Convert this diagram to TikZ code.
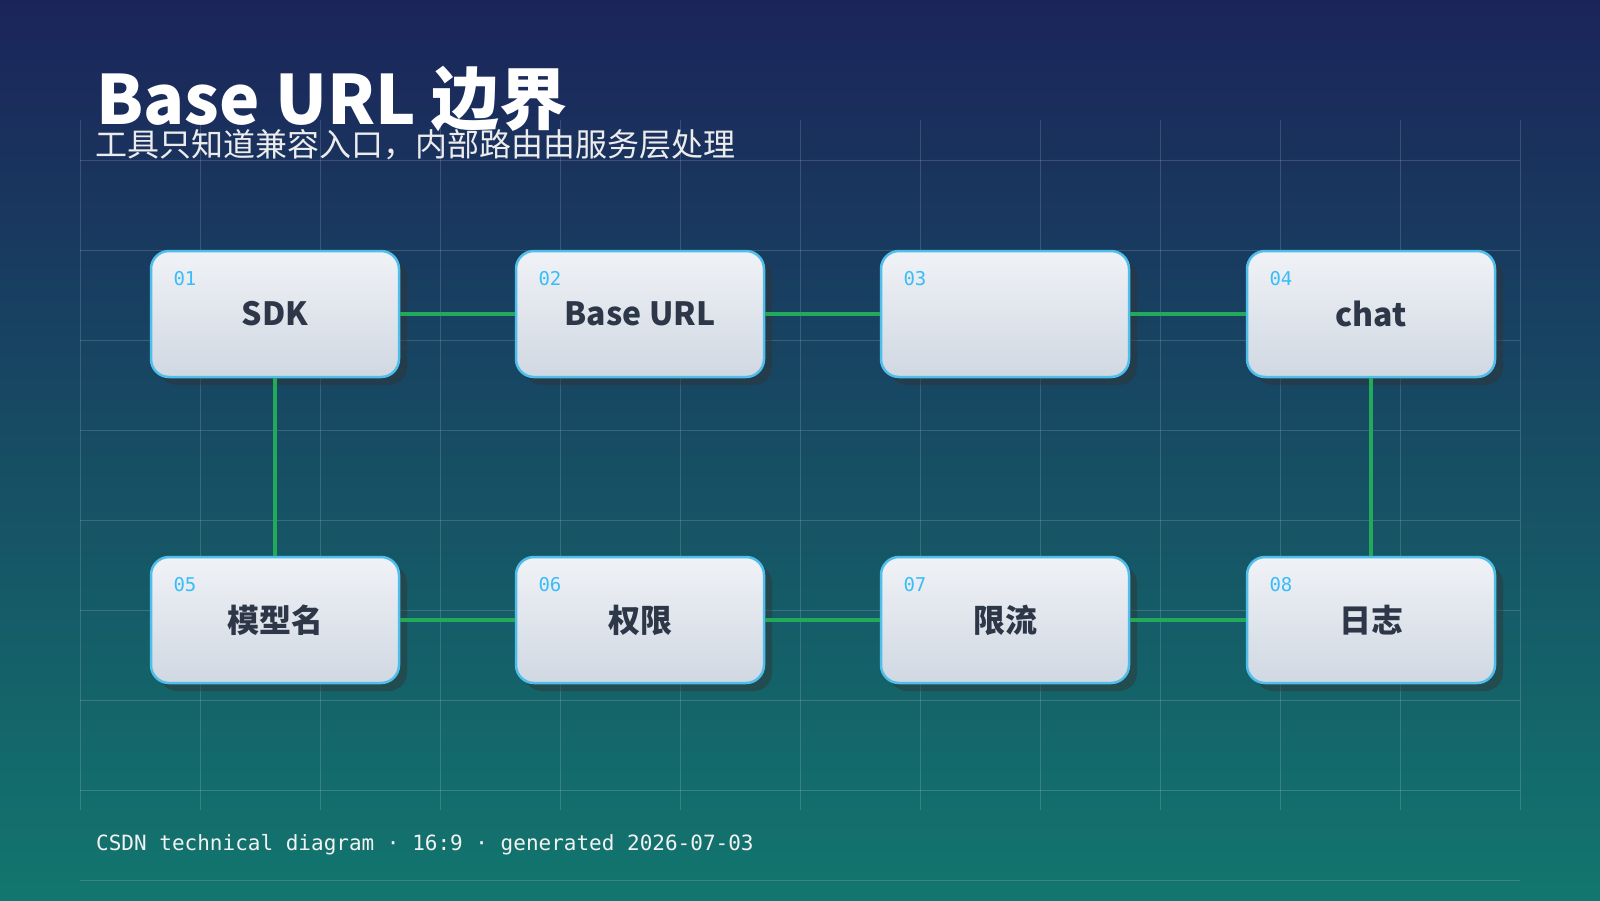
\documentclass[tikz,border=0pt]{standalone}
\usepackage{fontspec}
\setmainfont{Noto Sans CJK SC}
\newfontfamily\cjk{Noto Sans CJK SC}
\newfontfamily\monof{DejaVu Sans Mono}
\usetikzlibrary{shadows}
\definecolor{bgL}{RGB}{27,36,90}
\definecolor{bgR}{RGB}{18,118,110}
\definecolor{edgeC}{RGB}{34,170,90}
\definecolor{numC}{RGB}{56,189,248}
\definecolor{bordC}{RGB}{80,190,235}
\definecolor{txtC}{RGB}{45,55,72}
\tikzset{
  x=1pt,y=-1pt,
  box/.style={draw=bordC,line width=2.5pt,rounded corners=18pt,minimum width=248pt,minimum height=126pt,
    top color={rgb,255:red,240;green,242;blue,246},bottom color={rgb,255:red,208;green,216;blue,226},
    drop shadow={shadow xshift=8pt,shadow yshift=-8pt,opacity=0.45,fill=black!80},
    font=\cjk\fontsize{32}{36}\selectfont\bfseries,text=txtC},
  num/.style={font=\monof\fontsize{19}{22}\selectfont,text=numC,anchor=base west},
  link/.style={edgeC,line width=4pt},
  grid/.style={white,opacity=0.15,line width=0.8pt}
}
\begin{document}
\begin{tikzpicture}
\useasboundingbox (0,0) rectangle (1600,900);
\shade[left color=bgL,right color=bgR,shading angle=0] (0,0) rectangle (1600,900);
\shade[top color=bgL,bottom color=bgR,opacity=0.25] (0,0) rectangle (1600,900);
\foreach \x in {80,200,...,1520} \draw[grid] (\x,120) -- (\x,810);
\foreach \y in {160,250,...,790} \draw[grid] (80,\y) -- (1520,\y);
\draw[grid] (80,880) -- (1520,880);
\node[anchor=base west,text=white,font=\cjk\fontsize{68}{70}\selectfont\bfseries,inner sep=0] (title) at (96,124) {Base URL 边界};
\node[anchor=base west,text=white!85!gray,font=\cjk\fontsize{32}{36}\selectfont,inner sep=0] (sub) at (95,156) {工具只知道兼容入口，内部路由由服务层处理};
\node[anchor=base west,text=white!90!gray,font=\monof\fontsize{21}{24}\selectfont,inner sep=0] (foot) at (96,850) {CSDN technical diagram · 16:9 · generated 2026-07-03};
\foreach \n/\x/\y/\t in {1/275/314/SDK,2/640/314/Base URL,3/1005/314//v1,4/1371/314/chat,5/275/620/模型名,6/640/620/权限,7/1005/620/限流,8/1371/620/日志}{
  \node[box] (n\n) at (\x,\y) {\raisebox{-4pt}{\t}};
  \node[num] (k\n) at (\x-105,\y-29) {0\n};
}
\draw[link] (n1) -- (n2);
\draw[link] (n2) -- (n3);
\draw[link] (n3) -- (n4);
\draw[link] (n4) -- (n8);
\draw[link] (n1) -- (n5);
\draw[link] (n5) -- (n6);
\draw[link] (n6) -- (n7);
\draw[link] (n7) -- (n8);
\end{tikzpicture}
\end{document}
